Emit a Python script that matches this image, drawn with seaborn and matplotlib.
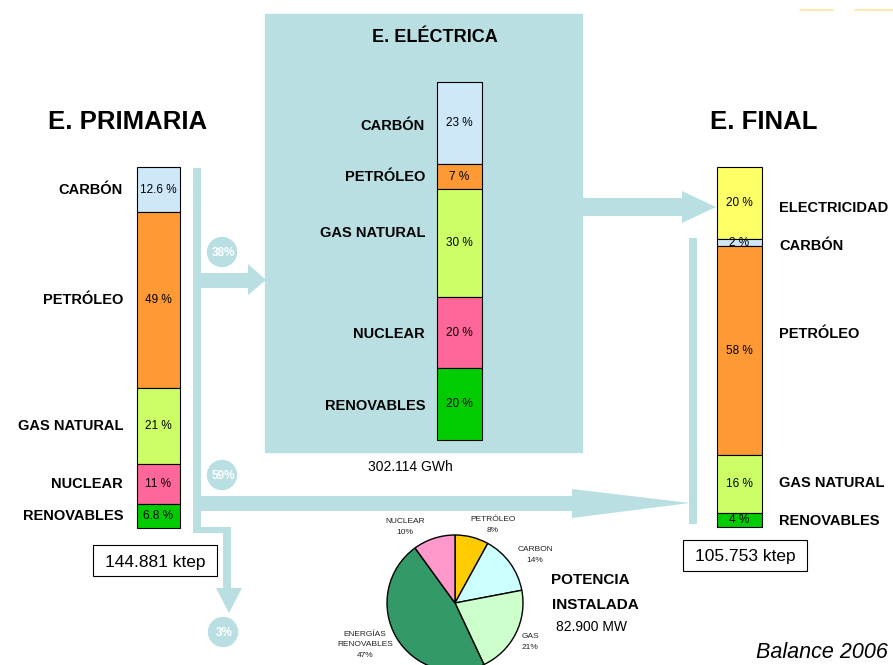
import numpy as np
import matplotlib.pyplot as plt
import seaborn as sns
from matplotlib.patches import Rectangle, Polygon, Circle

sns.set_theme(style='white')
plt.rcParams['font.family'] = ['Liberation Sans', 'DejaVu Sans']
plt.rcParams['text.color'] = 'black'

# ---- data ----
primaria_fuentes = ['CARBÓN', 'PETRÓLEO', 'GAS NATURAL', 'NUCLEAR', 'RENOVABLES']
primaria_pct = [12.6, 49, 21, 11, 6.8]
primaria_txt = ['12.6 %', '49 %', '21 %', '11 %', '6.8 %']

electrica_fuentes = ['CARBÓN', 'PETRÓLEO', 'GAS NATURAL', 'NUCLEAR', 'RENOVABLES']
electrica_pct = [23, 7, 30, 20, 20]
electrica_txt = ['23 %', '7 %', '30 %', '20 %', '20 %']

final_fuentes = ['ELECTRICIDAD', 'CARBÓN', 'PETRÓLEO', 'GAS NATURAL', 'RENOVABLES']
final_pct = [20, 2, 58, 16, 4]
final_txt = ['20 %', '2 %', '58 %', '16 %', '4 %']

flujos = ['38%', '59%', '3%']

potencia_fuentes = ['PETRÓLEO', 'CARBON', 'GAS', 'ENERGÍAS\nRENOVABLES', 'NUCLEAR']
potencia_pct = [8, 14, 21, 47, 10]

# ---- colours ----
teal = '#b9dfe3'
col = {'CARBÓN': '#cfe8f9', 'PETRÓLEO': '#ff9933', 'GAS NATURAL': '#ccff66',
       'NUCLEAR': '#ff6699', 'RENOVABLES': '#00cc00', 'ELECTRICIDAD': '#ffff66'}
pie_cols = ['#ffcc00', '#ccffff', '#ccffcc', '#339966', '#ff99cc']

fig = plt.figure(figsize=(8.93, 6.65), dpi=100)
ax = fig.add_axes([0, 0, 1, 1])


def stacked(x, top, bottom, width, pct, names, txt):
    pct = np.array(pct, dtype=float)
    h = pct * (bottom - top) / pct.sum()
    b = top + np.cumsum(h) - h
    bars = ax.bar([x] * len(pct), h, width=width, bottom=b,
                  color=[col[n] for n in names], edgecolor='black', linewidth=0.8, zorder=3)
    ax.bar_label(bars, labels=txt, label_type='center', fontsize=8.5, color='black', zorder=4)
    return b + h / 2


# background panel and flows
ax.add_patch(Rectangle((265, 14), 317, 438, color=teal, zorder=1))
shapes = [
    [(193, 168), (201, 168), (201, 527), (193, 527)],
    [(193, 527), (231, 527), (231, 533), (193, 533)],
    [(223, 530), (231, 530), (231, 589), (223, 589)],
    [(216, 588), (242, 588), (229, 613)],
    [(201, 273), (249, 273), (249, 288), (201, 288)],
    [(248, 264), (248, 295), (266, 280)],
    [(201, 496), (574, 496), (574, 511), (201, 511)],
    [(572, 489), (572, 518), (690, 503)],
    [(582, 198), (684, 198), (684, 216), (582, 216)],
    [(682, 191), (682, 223), (716, 207)],
    [(689, 238), (697, 238), (697, 524), (689, 524)],
]
for s in shapes:
    ax.add_patch(Polygon(s, closed=True, color=teal, lw=0, zorder=2))

for lab, (cx, cy) in zip(flujos, [(222, 252), (222, 475), (223, 632)]):
    ax.add_patch(Circle((cx, cy), 14.5, color=teal, zorder=2))
    ax.text(cx + 1, cy + 1, lab, color='white', fontsize=8.5, fontweight='bold',
            ha='center', va='center', zorder=3)

# stacked bars
yp = stacked(158, 167, 528, 43, primaria_pct, primaria_fuentes, primaria_txt)
for n, y in zip(primaria_fuentes, yp):
    ax.text(123, y, n, fontsize=10.5, fontweight='bold', ha='right', va='center')

ye = stacked(459.5, 82, 440, 45, electrica_pct, electrica_fuentes, electrica_txt)
for n, y, d in zip(electrica_fuentes, ye, [3, 0, -10, 1, 2]):
    ax.text(425, y + d, n, fontsize=10.5, fontweight='bold', ha='right', va='center')

yf = stacked(739.5, 167, 527, 45, final_pct, final_fuentes, final_txt)
for n, y, d in zip(final_fuentes, yf, [5, 3, -17, -1, 1]):
    ax.text(779, y + d, n, fontsize=10.5, fontweight='bold', ha='left', va='center')

# titles
ax.text(128, 122, 'E. PRIMARIA', fontsize=18.5, fontweight='bold', ha='center', va='center')
ax.text(435, 38, 'E. ELÉCTRICA', fontsize=13, fontweight='bold', ha='center', va='center')
ax.text(764, 122, 'E. FINAL', fontsize=18.5, fontweight='bold', ha='center', va='center')
ax.text(410, 467, '302.114 GWh', fontsize=10, ha='center', va='center')

for (bx, by), t in zip([(93, 545), (683, 540)], ['144.881 ktep', '105.753 ktep']):
    ax.add_patch(Rectangle((bx, by), 124, 31, fc='white', ec='black', lw=0.8, zorder=3))
    ax.text(bx + 62, by + 17, t, fontsize=12.5, ha='center', va='center', zorder=4)

# pie of installed power
ax.pie(potencia_pct, colors=pie_cols, center=(455, 603), radius=68,
       startangle=-90, counterclock=True, frame=True,
       wedgeprops=dict(edgecolor='black', linewidth=1))
pie_lab_pos = [(493, 525), (535, 555), (530, 642), (365, 645), (405, 527)]
for n, p, (tx, ty) in zip(potencia_fuentes, potencia_pct, pie_lab_pos):
    ax.text(tx, ty, f'{n}\n{p}%', fontsize=6, ha='center', va='center',
            linespacing=1.7, color='#222222')

ax.text(590, 580, 'POTENCIA', fontsize=11, fontweight='bold', ha='center', va='center')
ax.text(595, 605, 'INSTALADA', fontsize=11, fontweight='bold', ha='center', va='center')
ax.text(592, 627, '82.900 MW', fontsize=10, ha='center', va='center')
ax.text(888, 653, 'Balance 2006', fontsize=15.5, style='italic', ha='right', va='center')

ax.plot([800, 833], [10, 10], color='#ffe6a0', lw=1.2)
ax.plot([855, 893], [10, 10], color='#ffe6a0', lw=1.2)

ax.set_xlim(0, 893)
ax.set_ylim(665, 0)
ax.set_aspect('equal')
ax.axis('off')
fig.savefig('out.png', dpi=100)
